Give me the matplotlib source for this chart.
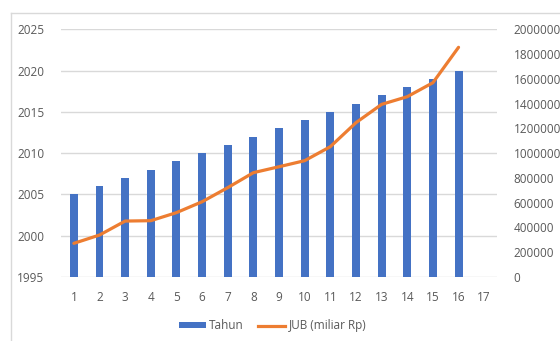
import matplotlib
matplotlib.use("Agg")
import matplotlib.pyplot as plt
from matplotlib.lines import Line2D
from matplotlib.patches import Patch

# Data
index = list(range(1, 17))
tahun = [2005, 2006, 2007, 2008, 2009, 2010, 2011, 2012,
         2013, 2014, 2015, 2016, 2017, 2018, 2019, 2020]
jub = [272000, 339000, 452000, 455000, 520000, 608000, 722000, 843000,
       891000, 940000, 1053000, 1247000, 1395000, 1457000, 1570000, 1856000]
x_ticks = list(range(1, 18))
left_ticks = [1995, 2000, 2005, 2010, 2015, 2020, 2025]
right_ticks = [0, 200000, 400000, 600000, 800000, 1000000, 1200000,
               1400000, 1600000, 1800000, 2000000]

BLUE = "#4472C4"
ORANGE = "#ED7D31"
GRID = "#D9D9D9"
TEXT = "#595959"

plt.rcParams["font.family"] = ["Open Sans", "DejaVu Sans"]
plt.rcParams["font.size"] = 8.5

fig = plt.figure(figsize=(5.6, 3.41), dpi=100)
ax = fig.add_axes([0.109, 0.1877, 0.7785, 0.7258])
ax2 = ax.twinx()

ax.bar(index, [t - 1995 for t in tahun], bottom=1995, width=0.31,
       color=BLUE, zorder=2)
ax.set_ylim(1995, 2025)
ax.set_yticks(left_ticks)
ax.set_xlim(0.5, 17.5)
ax.set_xticks(x_ticks)
ax.grid(axis="y", color=GRID, linewidth=1.0, zorder=0)
ax.set_axisbelow(True)

ax2.plot(index, jub, color=ORANGE, linewidth=2.3, solid_capstyle="round",
         zorder=3)
ax2.set_ylim(0, 2000000)
ax2.set_yticks(right_ticks)
ax2.set_yticklabels([str(v) for v in right_ticks])

for a in (ax, ax2):
    for s in a.spines.values():
        s.set_visible(False)
    a.tick_params(length=0, colors=TEXT, labelsize=8.5)
ax.tick_params(axis="y", pad=12)
ax.tick_params(axis="x", pad=10)
ax2.tick_params(axis="y", pad=12)

# chart area border
fig.add_artist(Line2D([10.5 / 560, 10.5 / 560], [0, 1 - 12.5 / 341],
                      transform=fig.transFigure, color=GRID, linewidth=1.0))
fig.add_artist(Line2D([10.5 / 560, 1], [1 - 12.5 / 341, 1 - 12.5 / 341],
                      transform=fig.transFigure, color=GRID, linewidth=1.0))

handles = [Patch(facecolor=BLUE, edgecolor="none"),
           Line2D([], [], color=ORANGE, linewidth=2.3)]
fig.legend(handles, ["Tahun", "JUB (miliar Rp)"], loc="center",
           bbox_to_anchor=(0.487, 0.044), ncol=2, frameon=False,
           handlelength=2.3, handleheight=0.4, columnspacing=1.2,
           handletextpad=0.3, labelcolor=TEXT, fontsize=8.5)

fig.savefig("out.png", dpi=100)
